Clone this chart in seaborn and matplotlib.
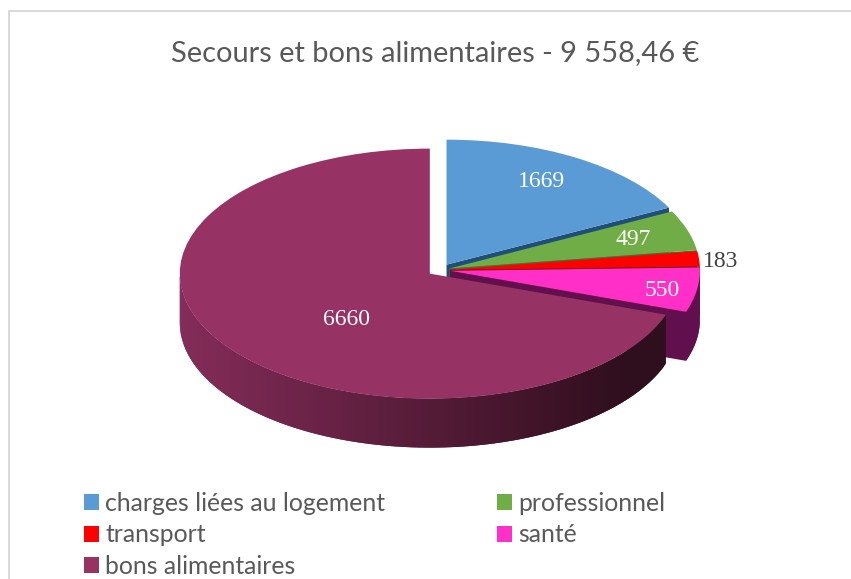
import numpy as np
import matplotlib
matplotlib.use("Agg")
import matplotlib.pyplot as plt
from matplotlib.patches import Polygon
from matplotlib.lines import Line2D
from matplotlib.colors import to_rgb
import seaborn as sns

title = "Secours et bons alimentaires - 9 558,46 €"
categories = ["charges liées au logement", "professionnel", "transport", "santé", "bons alimentaires"]
values = [1669, 497, 183, 550, 6660]
top_colors = ["#5b9bd5", "#70ad47", "#ff0000", "#ff2fc8", "#963264"]
cut_colors = ["#1f4e79", "#46722b", "#8f0000", "#620f4e", "#35101f"]
side_colors = ["#33628c", "#46722b", "#8f0000", "#620f4e", "#7f2b56"]
explode = [0.05, 0.04, 0.04, 0.04, 0.05]
label_px = [(541, 179), (633, 237), (721, 259), (662, 288), (347, 317)]
label_colors = ["white", "white", "#404040", "white", "white"]

sns.set_theme(style="white")
W, H = 851, 579
fig = plt.figure(figsize=(W / 100, H / 100), dpi=100, facecolor="white")
ax = fig.add_axes([0, 0, 1, 1])

cx, cy, rx, ry, depth_px = 440.0, 270.0, 250.0, 125.0, 49.0
palette = sns.color_palette(top_colors)
wedges, _ = ax.pie(values, colors=palette, startangle=90, counterclock=False,
                   explode=explode, radius=1.0, wedgeprops={"linewidth": 0})
ax.set_aspect("auto")
ax.set_xlim((0 - cx) / rx, (W - cx) / rx)
ax.set_ylim((cy - H) / ry, cy / ry)
depth = depth_px / ry

vals = np.array(values, float)
edges = np.concatenate([[0], np.cumsum(vals)]) / vals.sum() * 2 * np.pi


def rim(t, c):
    return np.array([c[0] + np.sin(t), c[1] + np.cos(t)])


def mix(a, b, f):
    a, b = np.array(to_rgb(a)), np.array(to_rgb(b))
    return tuple(a + (b - a) * f)


for i, w in enumerate(wedges):
    t0, t1 = edges[i], edges[i + 1]
    mid = (t0 + t1) / 2
    c = (explode[i] * np.sin(mid), explode[i] * np.cos(mid))
    zs = 2 + 2 * i
    w.set_zorder(zs + 1)
    p = rim(t1, c)
    ax.add_patch(Polygon([c, p, p - [0, depth], (c[0], c[1] - depth)],
                         closed=True, fc=cut_colors[i], ec="none", zorder=zs))
    a0, a1 = max(t0, np.pi / 2), min(t1, 3 * np.pi / 2)
    if a1 > a0:
        ts = np.linspace(a0, a1, max(3, int((a1 - a0) * 40)))
        for j in range(len(ts) - 1):
            ta, tb = ts[j], ts[min(j + 2, len(ts) - 1)]
            arc = np.linspace(ta, tb, 4)
            upper = [rim(t, c) for t in arc]
            lower = [rim(t, c) - [0, depth] for t in arc[::-1]]
            if i == 4:
                f = (np.sin((ts[j] + ts[j + 1]) / 2) + 1) / 2
                col = mix("#842c59", "#2f0e1d", np.clip(f * 1.12, 0, 1))
            else:
                col = side_colors[i]
            ax.add_patch(Polygon(upper + lower, closed=True, fc=col, ec="none", zorder=zs))

for v, (x, y), col in zip(values, label_px, label_colors):
    ax.text((x - cx) / rx, (cy - y - 2.5) / ry, str(v), color=col, ha="center", va="center",
            family="Liberation Serif", fontsize=17, zorder=30)

fig.text(435 / W, 1 - 53 / H, title, ha="center", va="center",
         family="Lato", fontsize=20.9, color="#595959")

order = [0, 2, 4, 1, 3]
leg = fig.legend([wedges[i] for i in order], [categories[i] for i in order], ncol=2,
                 loc="upper left", bbox_to_anchor=(84 / W, 1 - 492 / H),
                 bbox_transform=fig.transFigure, frameon=False, prop={"family": "Lato", "size": 17.8},
                 labelcolor="#595959", handlelength=0.62, handleheight=0.62,
                 handletextpad=0.24, labelspacing=0.34, columnspacing=4.52,
                 borderpad=0, borderaxespad=0)

fig.add_artist(Line2D([9 / W, 9 / W], [0, 1 - 11 / H], transform=fig.transFigure, color="#d9d9d9", lw=1.4))
fig.add_artist(Line2D([9 / W, 1], [1 - 11 / H, 1 - 11 / H], transform=fig.transFigure, color="#d9d9d9", lw=1.4))
fig.savefig("out.png", dpi=100)
